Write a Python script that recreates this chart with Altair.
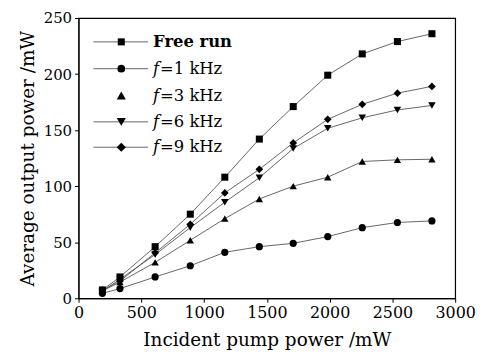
import altair as alt
import pandas as pd

pump = [190, 330, 610, 890, 1165, 1440, 1710, 1985, 2260, 2540, 2815]
free_run = [7.4, 19, 46, 75, 108, 142, 171, 199, 218, 229, 236]
f1 = [4.4, 8.6, 19, 29, 41, 46, 49, 55, 63, 67.6, 69]
f3 = [6.5, 14.5, 32, 51.7, 71, 88.6, 100, 108, 122, 123.5, 124]
f6 = [6.2, 17, 39, 63, 85.7, 107.5, 133.6, 151.6, 161, 168, 172]
f9 = [7.4, 15.3, 40.5, 66, 94, 115, 138.6, 159.6, 173, 183, 189]

series = ["Free run", "f=1 kHz", "f=3 kHz", "f=6 kHz", "f=9 kHz"]
shapes = ["square", "circle", "triangle-up", "triangle-down", "diamond"]
sizes = [50, 60, 85, 85, 85]
values = [free_run, f1, f3, f6, f9]

rows = []
for s, vals in zip(series, values):
    for x, y in zip(pump, vals):
        rows.append({"series": s, "pump": x, "power": y})
df = pd.DataFrame(rows)

FONT = "DejaVu Serif"
W, H = 379, 282

xenc = alt.X("pump:Q", scale=alt.Scale(domain=[0, 3000], nice=False),
             axis=alt.Axis(title="Incident pump power /mW", values=[0, 500, 1000, 1500, 2000, 2500, 3000],
                           format="d", grid=False, tickSize=4, labelFlush=False, titlePadding=11,
                           labelFontSize=16))
yenc = alt.Y("power:Q", scale=alt.Scale(domain=[0, 250], nice=False),
             axis=alt.Axis(title="Average output power /mW", values=[0, 50, 100, 150, 200, 250],
                           format="d", grid=False, tickSize=4, labelPadding=3, titlePadding=6))

lines = alt.Chart(df).mark_line(color="#555555", strokeWidth=0.9).encode(
    x=xenc, y=yenc, detail="series:N")

points = alt.Chart(df).mark_point(filled=True, color="black", opacity=1).encode(
    x="pump:Q", y="power:Q",
    shape=alt.Shape("series:N", scale=alt.Scale(domain=series, range=shapes), legend=None),
    size=alt.Size("series:N", scale=alt.Scale(domain=series, range=sizes), legend=None))

layers = [lines, points]

# manual legend (top-left inside the plot)
leg_y = [24, 51, 78, 104.5, 130]
for i, (s, shp) in enumerate(zip(series, shapes)):
    d = pd.DataFrame({"label": [s]})
    if s != "f=3 kHz":
        layers.append(alt.Chart(d).mark_rule(color="#555555", strokeWidth=0.9).encode(
            x=alt.value(15), x2=alt.value(70), y=alt.value(leg_y[i])))
    layers.append(alt.Chart(d).mark_point(filled=True, color="black", opacity=1, size=sizes[i], shape=shp).encode(
        x=alt.value(43), y=alt.value(leg_y[i])))
    if s == "Free run":
        layers.append(alt.Chart(d).mark_text(align="left", baseline="middle", font=FONT, fontSize=16.5,
                                             fontWeight="bold", color="black").encode(
            x=alt.value(75), y=alt.value(leg_y[i]), text="label:N"))
    else:
        layers.append(alt.Chart(d).mark_text(align="left", baseline="middle", font=FONT, fontSize=16.5,
                                             fontStyle="italic", color="black").encode(
            x=alt.value(75), y=alt.value(leg_y[i]), text=alt.value("f")))
        layers.append(alt.Chart(d).mark_text(align="left", baseline="middle", font=FONT, fontSize=16.5,
                                             color="black").encode(
            x=alt.value(82), y=alt.value(leg_y[i]), text=alt.value(s[1:])))

chart = alt.layer(*layers).properties(
    width=W, height=H,
    padding={"left": 10, "top": 2, "right": 5, "bottom": 2}
).configure_view(
    stroke="black", strokeWidth=1.2
).configure_axis(
    labelFont=FONT, titleFont=FONT, labelFontSize=15, titleFontSize=18.5,
    labelColor="black", titleColor="black", titleFontWeight="normal",
    domainColor="black", tickColor="black"
)

chart.save("out.html", embed_options={"renderer": "svg", "actions": False})
